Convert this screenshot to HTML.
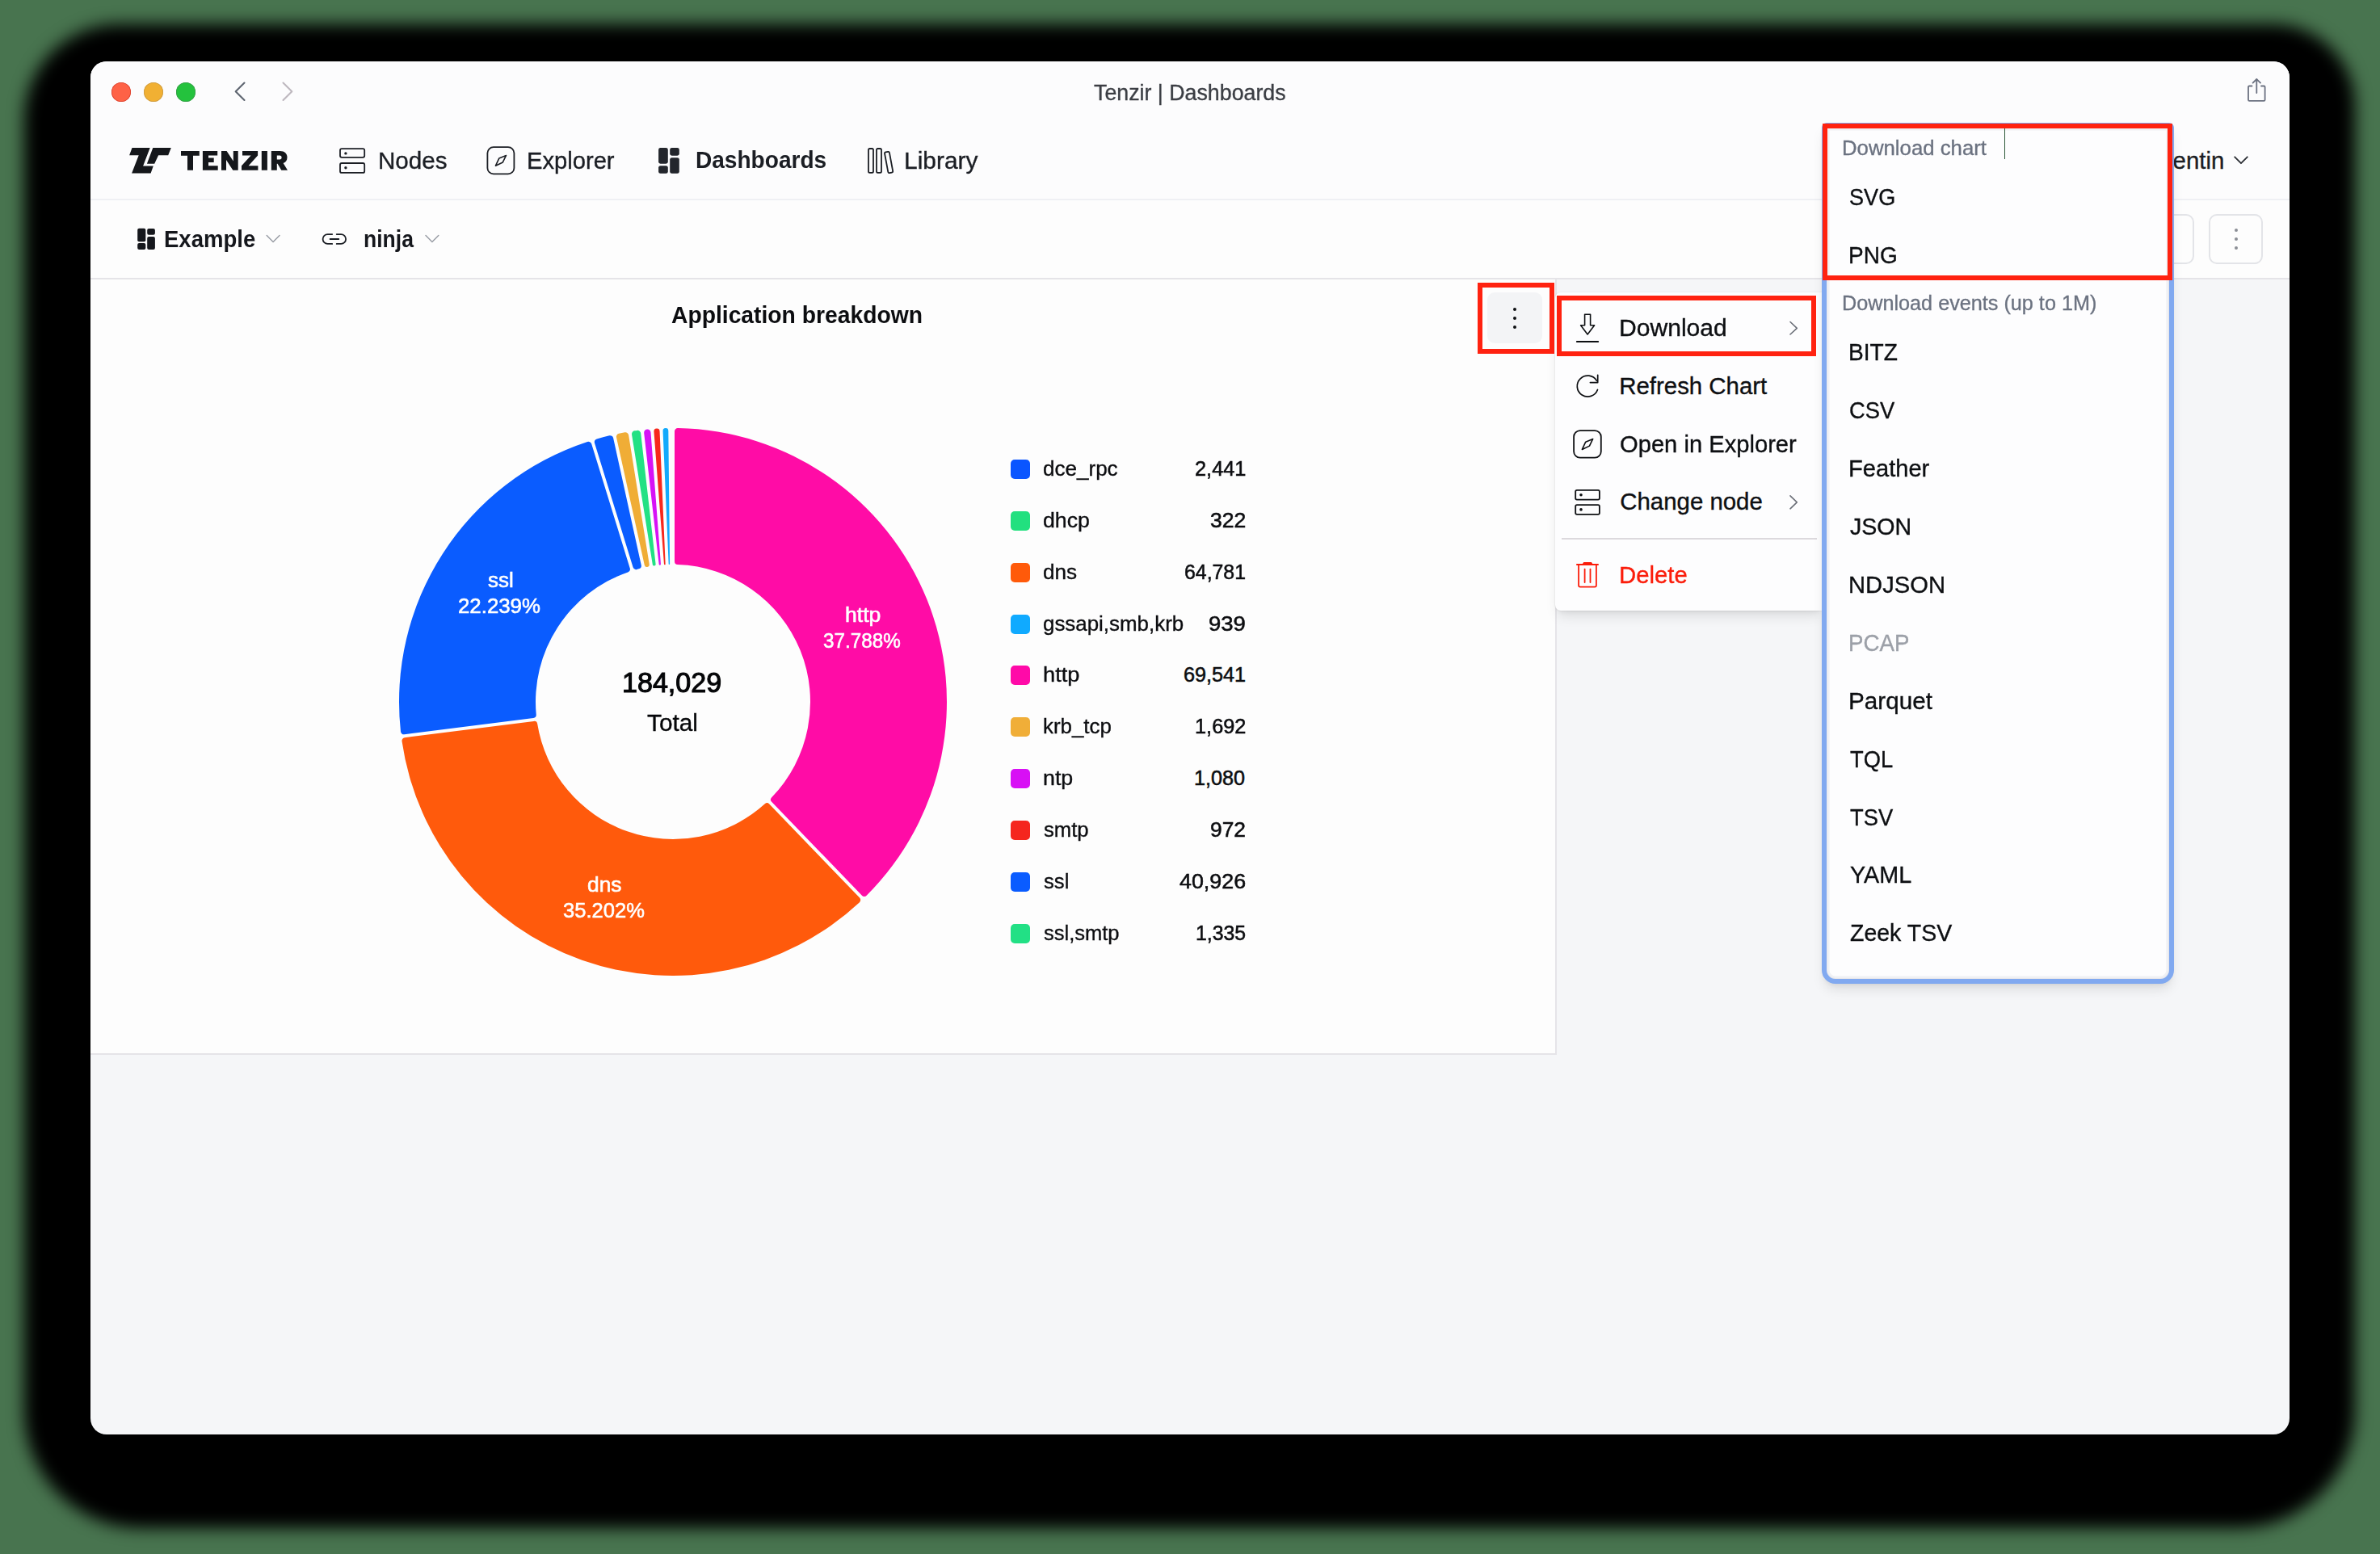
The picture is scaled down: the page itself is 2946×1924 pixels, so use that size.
<!DOCTYPE html>
<html><head><meta charset="utf-8"><style>
html,body{margin:0;padding:0;}
body{width:2946px;height:1924px;overflow:hidden;background:#48744f;position:relative;font-family:'Liberation Sans',sans-serif;}
</style></head><body>
<div style="position:absolute;left:29.6px;top:29.6px;width:2885px;height:1862.4px;background:#000;border-radius:118px 101px 145px 145px;filter:blur(10px)"></div>
<div id="win" style="position:absolute;left:0;top:0;width:2946px;height:1924px;clip-path:inset(76px 112px 148px 112px round 20px);background:#f5f6f8">
<div style="position:absolute;left:112px;top:76px;width:2722px;height:170px;background:#fcfcfd"></div>
<div style="position:absolute;left:112px;top:246px;width:2722px;height:2px;background:#eff0f4"></div>
<div style="position:absolute;left:112px;top:248px;width:2722px;height:96px;background:#fdfdfd"></div>
<div style="position:absolute;left:112px;top:344px;width:2722px;height:2px;background:#e5e4e8"></div>
<div style="position:absolute;left:112px;top:346px;width:1813px;height:958px;background:#fdfdfd;border-right:2px solid #e5e4e8;border-bottom:2px solid #e5e4e8"></div>
<div style="position:absolute;left:137.7px;top:101.5px;width:24.6px;height:24.6px;border-radius:50%;background:#fe6246;box-shadow:inset 0 0 0 0.8px #d9402e"></div>
<div style="position:absolute;left:177.7px;top:101.5px;width:24.6px;height:24.6px;border-radius:50%;background:#f1b033;box-shadow:inset 0 0 0 0.8px #c99a45"></div>
<div style="position:absolute;left:217.7px;top:101.5px;width:24.6px;height:24.6px;border-radius:50%;background:#24c23d;box-shadow:inset 0 0 0 0.8px #3a9a4a"></div>
<svg style="position:absolute;left:285px;top:98px;overflow:visible" width="84" height="30" viewBox="285 98 84 30" ><path d="M302.5,102.5 L291.7,113.2 L302.5,124" fill="none" stroke="#5e6570" stroke-width="2.1" stroke-linecap="round" stroke-linejoin="round"/><path d="M350.5,102.5 L361.3,113.2 L350.5,124" fill="none" stroke="#beb8bf" stroke-width="2.1" stroke-linecap="round" stroke-linejoin="round"/></svg>
<div style="position:absolute;left:1354.00px;top:101.00px;font:400 27.3px/27.3px 'Liberation Sans',sans-serif;color:#3b3e44;white-space:nowrap;transform:scaleX(0.9809);transform-origin:0 0;-webkit-text-stroke:0.35px #3b3e44;">Tenzir | Dashboards</div>
<svg style="position:absolute;left:2778px;top:94px;overflow:visible" width="32" height="36" viewBox="2778 94 32 36" ><path d="M2787.5,106.5 L2784.3,106.5 Q2783,106.5 2783,107.8 L2783,123.5 Q2783,124.8 2784.3,124.8 L2802.3,124.8 Q2803.6,124.8 2803.6,123.5 L2803.6,107.8 Q2803.6,106.5 2802.3,106.5 L2799,106.5" fill="none" stroke="#6b7180" stroke-width="1.8" stroke-linecap="round" stroke-linejoin="round"/><path d="M2793.3,115 L2793.3,98.2 M2788.6,102.6 L2793.3,98 L2798,102.6" fill="none" stroke="#6b7180" stroke-width="1.8" stroke-linecap="round" stroke-linejoin="round"/></svg>
<svg style="position:absolute;left:155px;top:178px;overflow:visible" width="62" height="42" viewBox="155 178 62 42" ><path d="M163.5,183.1 L185.7,183.1 L177.1,205.4 L189.8,205.4 L186.6,214.6 L163.1,214.6 L171.7,192.3 L160.1,192.3 Z" fill="#15171b"/><path d="M189.3,183.1 L211.8,183.1 L208.2,192.3 L196.1,192.3 L191.2,202.8 L181.9,202.8 Z" fill="#15171b"/></svg>
<svg style="position:absolute;left:220px;top:183px;overflow:visible" width="140" height="32" viewBox="220 183 140 32" ><path d="M224,187 H246.8 V192.8 H239 V210.8 H232 V192.8 H224 Z M250.9,187 H269.2 V192.6 H258 V195.6 H264.7 V200.9 H258 V205.3 H269.7 V210.8 H250.9 Z M274,187 H280.6 L288.8,199.6 V187 H294.7 V210.8 H288.3 L280,198 V210.8 H274 Z M300,187 H319.1 V192.6 L307.6,205.3 H319.4 V210.8 H299 V205.3 L310.6,192.6 H300 Z M323.8,187 H330.9 V210.8 H323.8 Z M335.8,187 H346.5 C352.5,187 355.5,190.3 355.5,195 C355.5,198.6 353.6,200.9 350.6,201.9 L356,210.8 H348.3 L343.6,202.8 H342.8 V210.8 H335.8 Z M342.8,192.4 V197.5 H346.2 C347.9,197.5 348.6,196.5 348.6,195 C348.6,193.4 347.9,192.4 346.2,192.4 Z" fill="#15171b" fill-rule="evenodd"/></svg>
<svg style="position:absolute;left:418px;top:181px;overflow:visible" width="36" height="36" viewBox="418 181 36 36" ><rect x="421" y="184.1" width="30.2" height="10.7" rx="2" fill="none" stroke="#1b1e24" stroke-width="1.8" stroke-linecap="round" stroke-linejoin="round"/><rect x="421" y="202" width="30.2" height="11.9" rx="2" fill="none" stroke="#1b1e24" stroke-width="1.8" stroke-linecap="round" stroke-linejoin="round"/><circle cx="427.9" cy="189.9" r="1.7" fill="#1b1e24"/><circle cx="427.9" cy="207.8" r="1.7" fill="#1b1e24"/></svg>
<div style="position:absolute;left:467.89px;top:184.00px;font:400 29.4px/29.4px 'Liberation Sans',sans-serif;color:#1b1e24;white-space:nowrap;transform:scaleX(1.0065);transform-origin:0 0;-webkit-text-stroke:0.35px #1b1e24;">Nodes</div>
<svg style="position:absolute;left:600px;top:179px;overflow:visible" width="40" height="40" viewBox="600 179 40 40" ><rect x="603.4" y="182.1" width="32.99999999999996" height="33.300000000000026" rx="7.49" fill="none" stroke="#1b1e24" stroke-width="1.8" stroke-linecap="round" stroke-linejoin="round"/><path d="M626.51,192.44 L617.73,196.09 L613.49,205.16 L622.36,200.92 Z" fill="none" stroke="#1b1e24" stroke-width="1.6" stroke-linecap="round" stroke-linejoin="round"/></svg>
<div style="position:absolute;left:651.82px;top:184.00px;font:400 29.4px/29.4px 'Liberation Sans',sans-serif;color:#1b1e24;white-space:nowrap;transform:scaleX(0.9921);transform-origin:0 0;-webkit-text-stroke:0.35px #1b1e24;">Explorer</div>
<svg style="position:absolute;left:812px;top:180px;overflow:visible" width="32" height="38" viewBox="812 180 32 38" ><rect x="815.1" y="183.1" width="11.7" height="19.6" rx="2.4" fill="#23262c"/><rect x="815.1" y="205.2" width="11.7" height="9.6" rx="2.4" fill="#23262c"/><rect x="829.2" y="183.1" width="11.6" height="9.6" rx="2.4" fill="#23262c"/><rect x="829.2" y="195.2" width="11.6" height="19.6" rx="2.4" fill="#23262c"/></svg>
<div style="position:absolute;left:860.85px;top:183.00px;font:700 29.4px/29.4px 'Liberation Sans',sans-serif;color:#1b1e24;white-space:nowrap;transform:scaleX(0.9548);transform-origin:0 0;">Dashboards</div>
<svg style="position:absolute;left:1070px;top:180px;overflow:visible" width="40" height="40" viewBox="1070 180 40 40" ><rect x="1075" y="184" width="6" height="29.9" rx="1.6" fill="none" stroke="#1b1e24" stroke-width="1.8" stroke-linecap="round" stroke-linejoin="round"/><rect x="1085" y="184" width="6" height="29.9" rx="1.6" fill="none" stroke="#1b1e24" stroke-width="1.8" stroke-linecap="round" stroke-linejoin="round"/><rect x="-3" y="-13" width="6" height="26.2" rx="1.6" transform="translate(1100.1,200.9) rotate(-10.5)" fill="none" stroke="#1b1e24" stroke-width="1.8" stroke-linecap="round" stroke-linejoin="round"/></svg>
<div style="position:absolute;left:1119.46px;top:184.00px;font:400 29.4px/29.4px 'Liberation Sans',sans-serif;color:#1b1e24;white-space:nowrap;transform:scaleX(1.0177);transform-origin:0 0;-webkit-text-stroke:0.35px #1b1e24;">Library</div>
<div style="position:absolute;left:2649.32px;top:184.00px;font:400 29.4px/29.4px 'Liberation Sans',sans-serif;color:#1b1e24;white-space:nowrap;-webkit-text-stroke:0.35px #1b1e24;">Valentin</div>
<svg style="position:absolute;left:2760px;top:188px;overflow:visible" width="28" height="20" viewBox="2760 188 28 20" ><path d="M2766.2,194.3 L2774,202.2 L2781.8,194.3" fill="none" stroke="#2a2d33" stroke-width="1.8" stroke-linecap="round" stroke-linejoin="round"/></svg>
<svg style="position:absolute;left:166px;top:278px;overflow:visible" width="30" height="36" viewBox="166 278 30 36" ><rect x="170.2" y="282.7" width="10.1" height="16.5" rx="2" fill="#15171c"/><rect x="170.2" y="301.1" width="10.1" height="7.9" rx="2" fill="#15171c"/><rect x="182.2" y="283" width="9.7" height="7.7" rx="2" fill="#15171c"/><rect x="182.2" y="292.9" width="9.7" height="16.1" rx="2" fill="#15171c"/></svg>
<div style="position:absolute;left:203.06px;top:281.00px;font:700 29.4px/29.4px 'Liberation Sans',sans-serif;color:#15171c;white-space:nowrap;transform:scaleX(0.9369);transform-origin:0 0;">Example</div>
<svg style="position:absolute;left:326px;top:286px;overflow:visible" width="24" height="18" viewBox="326 286 24 18" ><path d="M330.2,291.5 L338.1,299.5 L346,291.5" fill="none" stroke="#9a9ea6" stroke-width="1.5" stroke-linecap="round" stroke-linejoin="round"/></svg>
<svg style="position:absolute;left:396px;top:286px;overflow:visible" width="36" height="20" viewBox="396 286 36 20" ><path d="M411.2,290.1 H405.5 A5.9,5.9 0 0 0 405.5,301.9 H411.2 M416.7,290.1 H422.2 A5.9,5.9 0 0 1 422.2,301.9 H416.7 M408.6,296 H419.3" fill="none" stroke="#1b1e24" stroke-width="1.8" stroke-linecap="round" stroke-linejoin="round"/></svg>
<div style="position:absolute;left:449.90px;top:281.00px;font:700 29.4px/29.4px 'Liberation Sans',sans-serif;color:#15171c;white-space:nowrap;transform:scaleX(0.9027);transform-origin:0 0;">ninja</div>
<svg style="position:absolute;left:522px;top:286px;overflow:visible" width="24" height="18" viewBox="522 286 24 18" ><path d="M527,291.5 L534.9,299.5 L542.8,291.5" fill="none" stroke="#9a9ea6" stroke-width="1.5" stroke-linecap="round" stroke-linejoin="round"/></svg>
<div style="position:absolute;left:2650px;top:265px;width:66px;height:62px;box-sizing:border-box;border:2px solid #e3e4e8;border-radius:10px;background:#fdfdfd"></div>
<div style="position:absolute;left:2734.4px;top:265px;width:66.4px;height:62px;box-sizing:border-box;border:2px solid #e3e4e8;border-radius:10px;background:#fdfdfd"></div>
<div style="position:absolute;left:2766.0px;top:282.8px;width:3.8px;height:3.8px;border-radius:50%;background:#8b8e95"></div>
<div style="position:absolute;left:2766.0px;top:294.0px;width:3.8px;height:3.8px;border-radius:50%;background:#8b8e95"></div>
<div style="position:absolute;left:2766.0px;top:305.20000000000005px;width:3.8px;height:3.8px;border-radius:50%;background:#8b8e95"></div>
<div style="position:absolute;left:830.70px;top:375.00px;font:700 29.4px/29.4px 'Liberation Sans',sans-serif;color:#0c0d10;white-space:nowrap;transform:scaleX(0.9616);transform-origin:0 0;">Application breakdown</div>
<div style="position:absolute;left:1841px;top:362.2px;width:67.6px;height:63.2px;border-radius:9px;background:#f3f4f6"></div>
<div style="position:absolute;left:1872.6px;top:380.5px;width:4.8px;height:4.8px;border-radius:50%;background:#0d0f12"></div>
<div style="position:absolute;left:1872.6px;top:391.5px;width:4.8px;height:4.8px;border-radius:50%;background:#0d0f12"></div>
<div style="position:absolute;left:1872.6px;top:402.70000000000005px;width:4.8px;height:4.8px;border-radius:50%;background:#0d0f12"></div>
<svg style="position:absolute;left:489px;top:525px;overflow:visible" width="688" height="688" viewBox="489 525 688 688" ><path d="M835.00,534.05 A4.00,4.00 0 0 1 839.07,530.05 A339,339 0 0 1 1072.66,1108.75 A4.00,4.00 0 0 1 1066.96,1108.70 L955.16,992.78 A4.00,4.00 0 0 1 955.16,987.22 A170,170 0 0 0 838.86,699.10 A4.00,4.00 0 0 1 835.00,695.10 Z" fill="#ff0ca6"/><path d="M1064.08,1111.48 A4.00,4.00 0 0 1 1063.92,1117.18 A339,339 0 0 1 497.52,917.72 A4.00,4.00 0 0 1 500.97,913.18 L660.74,892.89 A4.00,4.00 0 0 1 665.19,896.22 A170,170 0 0 0 946.72,995.36 A4.00,4.00 0 0 1 952.28,995.56 Z" fill="#ff5a0c"/><path d="M500.47,909.21 A4.00,4.00 0 0 1 495.99,905.68 A339,339 0 0 1 727.10,546.97 A4.00,4.00 0 0 1 732.17,549.58 L779.73,703.45 A4.00,4.00 0 0 1 777.22,708.41 A170,170 0 0 0 663.72,884.59 A4.00,4.00 0 0 1 660.24,888.92 Z" fill="#0a5cff"/><path d="M735.99,548.40 A4.00,4.00 0 0 1 738.70,543.38 A339,339 0 0 1 754.27,539.27 A4.00,4.00 0 0 1 759.11,542.30 L793.70,699.59 A4.00,4.00 0 0 1 790.78,704.33 A170,170 0 0 0 788.42,704.95 A4.00,4.00 0 0 1 783.55,702.27 Z" fill="#0a5cff"/><path d="M763.01,541.44 A4.00,4.00 0 0 1 766.13,536.66 A339,339 0 0 1 773.44,535.27 A4.00,4.00 0 0 1 778.09,538.58 L803.70,698.56 A3.00,3.00 0 0 1 801.30,701.98 A170,170 0 0 0 801.30,701.98 A3.00,3.00 0 0 1 797.81,699.68 Z" fill="#f0ad36"/><path d="M782.04,537.95 A4.00,4.00 0 0 1 785.43,533.35 A339,339 0 0 1 788.71,532.91 A4.00,4.00 0 0 1 793.21,536.42 L811.61,698.45 A1.92,1.92 0 0 1 809.97,700.57 A170,170 0 0 0 809.97,700.57 A1.92,1.92 0 0 1 807.81,698.97 Z" fill="#22e184"/><path d="M797.18,535.97 A4.00,4.00 0 0 1 800.78,531.54 A339,339 0 0 1 801.13,531.50 A4.00,4.00 0 0 1 805.49,535.18 L817.97,698.52 A1.16,1.16 0 0 1 816.93,699.76 A170,170 0 0 0 816.93,699.76 A1.16,1.16 0 0 1 815.67,698.74 Z" fill="#d612f6"/><path d="M809.45,534.43 A3.57,3.57 0 0 1 812.79,530.60 A339,339 0 0 1 812.79,530.60 A3.57,3.57 0 0 1 816.57,534.01 L823.65,698.43 A0.83,0.83 0 0 1 822.87,699.30 A170,170 0 0 0 822.87,699.30 A0.83,0.83 0 0 1 821.98,698.53 Z" fill="#f7281c"/><path d="M820.55,533.65 A3.38,3.38 0 0 1 823.84,530.12 A339,339 0 0 1 823.84,530.12 A3.38,3.38 0 0 1 827.31,533.47 L829.12,698.32 A0.74,0.74 0 0 1 828.41,699.06 A170,170 0 0 0 828.41,699.06 A0.74,0.74 0 0 1 827.65,698.36 Z" fill="#12aafc"/></svg>
<div style="position:absolute;left:769.83px;top:828.00px;font:400 34.65px/34.65px 'Liberation Sans',sans-serif;color:#050608;white-space:nowrap;transform:scaleX(0.9840);transform-origin:0 0;-webkit-text-stroke:1.1px #050608;">184,029</div>
<div style="position:absolute;left:800.70px;top:880.00px;font:400 29.4px/29.4px 'Liberation Sans',sans-serif;color:#050608;white-space:nowrap;transform:scaleX(1.0124);transform-origin:0 0;-webkit-text-stroke:0.35px #050608;">Total</div>
<div style="position:absolute;left:1046.35px;top:749.00px;font:400 25.2px/25.2px 'Liberation Sans',sans-serif;color:#ffffff;white-space:nowrap;transform:scaleX(1.0549);transform-origin:0 0;-webkit-text-stroke:0.6px #ffffff;">http</div>
<div style="position:absolute;left:1018.60px;top:781.00px;font:400 25.2px/25.2px 'Liberation Sans',sans-serif;color:#ffffff;white-space:nowrap;transform:scaleX(0.9623);transform-origin:0 0;-webkit-text-stroke:0.6px #ffffff;">37.788%</div>
<div style="position:absolute;left:604.30px;top:706.00px;font:400 25.2px/25.2px 'Liberation Sans',sans-serif;color:#ffffff;white-space:nowrap;transform:scaleX(1.0313);transform-origin:0 0;-webkit-text-stroke:0.6px #ffffff;">ssl</div>
<div style="position:absolute;left:566.67px;top:738.00px;font:400 25.2px/25.2px 'Liberation Sans',sans-serif;color:#ffffff;white-space:nowrap;transform:scaleX(1.0251);transform-origin:0 0;-webkit-text-stroke:0.6px #ffffff;">22.239%</div>
<div style="position:absolute;left:726.95px;top:1083.00px;font:400 25.2px/25.2px 'Liberation Sans',sans-serif;color:#ffffff;white-space:nowrap;transform:scaleX(1.0457);transform-origin:0 0;-webkit-text-stroke:0.6px #ffffff;">dns</div>
<div style="position:absolute;left:697.00px;top:1115.00px;font:400 25.2px/25.2px 'Liberation Sans',sans-serif;color:#ffffff;white-space:nowrap;transform:scaleX(1.0148);transform-origin:0 0;-webkit-text-stroke:0.6px #ffffff;">35.202%</div>
<div style="position:absolute;left:1251px;top:568.85px;width:24px;height:24px;border-radius:5px;background:#0a55ff"></div>
<div style="position:absolute;left:1290.67px;top:568.00px;font:400 25.2px/25.2px 'Liberation Sans',sans-serif;color:#0c0d10;white-space:nowrap;transform:scaleX(1.0339);transform-origin:0 0;-webkit-text-stroke:0.35px #0c0d10;">dce_rpc</div>
<div style="position:absolute;left:1478.59px;top:568.00px;font:400 25.2px/25.2px 'Liberation Sans',sans-serif;color:#0c0d10;white-space:nowrap;transform:scaleX(1.0062);transform-origin:0 0;-webkit-text-stroke:0.55px #0c0d10;">2,441</div>
<div style="position:absolute;left:1251px;top:632.75px;width:24px;height:24px;border-radius:5px;background:#22e07f"></div>
<div style="position:absolute;left:1290.64px;top:632.00px;font:400 25.2px/25.2px 'Liberation Sans',sans-serif;color:#0c0d10;white-space:nowrap;transform:scaleX(1.0606);transform-origin:0 0;-webkit-text-stroke:0.35px #0c0d10;">dhcp</div>
<div style="position:absolute;left:1497.70px;top:632.00px;font:400 25.2px/25.2px 'Liberation Sans',sans-serif;color:#0c0d10;white-space:nowrap;transform:scaleX(1.0557);transform-origin:0 0;-webkit-text-stroke:0.55px #0c0d10;">322</div>
<div style="position:absolute;left:1251px;top:696.65px;width:24px;height:24px;border-radius:5px;background:#ff5a0a"></div>
<div style="position:absolute;left:1290.66px;top:696.00px;font:400 25.2px/25.2px 'Liberation Sans',sans-serif;color:#0c0d10;white-space:nowrap;transform:scaleX(1.0380);transform-origin:0 0;-webkit-text-stroke:0.35px #0c0d10;">dns</div>
<div style="position:absolute;left:1466.01px;top:696.00px;font:400 25.2px/25.2px 'Liberation Sans',sans-serif;color:#0c0d10;white-space:nowrap;transform:scaleX(0.9863);transform-origin:0 0;-webkit-text-stroke:0.55px #0c0d10;">64,781</div>
<div style="position:absolute;left:1251px;top:760.55px;width:24px;height:24px;border-radius:5px;background:#10aaff"></div>
<div style="position:absolute;left:1290.67px;top:760.00px;font:400 25.2px/25.2px 'Liberation Sans',sans-serif;color:#0c0d10;white-space:nowrap;transform:scaleX(1.0283);transform-origin:0 0;-webkit-text-stroke:0.35px #0c0d10;">gssapi,smb,krb</div>
<div style="position:absolute;left:1496.21px;top:760.00px;font:400 25.2px/25.2px 'Liberation Sans',sans-serif;color:#0c0d10;white-space:nowrap;transform:scaleX(1.0921);transform-origin:0 0;-webkit-text-stroke:0.55px #0c0d10;">939</div>
<div style="position:absolute;left:1251px;top:824.45px;width:24px;height:24px;border-radius:5px;background:#ff0aa8"></div>
<div style="position:absolute;left:1290.62px;top:823.00px;font:400 25.2px/25.2px 'Liberation Sans',sans-serif;color:#0c0d10;white-space:nowrap;transform:scaleX(1.0799);transform-origin:0 0;-webkit-text-stroke:0.35px #0c0d10;">http</div>
<div style="position:absolute;left:1465.10px;top:823.00px;font:400 25.2px/25.2px 'Liberation Sans',sans-serif;color:#0c0d10;white-space:nowrap;-webkit-text-stroke:0.55px #0c0d10;">69,541</div>
<div style="position:absolute;left:1251px;top:888.35px;width:24px;height:24px;border-radius:5px;background:#f0ae38"></div>
<div style="position:absolute;left:1290.67px;top:887.00px;font:400 25.2px/25.2px 'Liberation Sans',sans-serif;color:#0c0d10;white-space:nowrap;transform:scaleX(1.0274);transform-origin:0 0;-webkit-text-stroke:0.35px #0c0d10;">krb_tcp</div>
<div style="position:absolute;left:1478.59px;top:887.00px;font:400 25.2px/25.2px 'Liberation Sans',sans-serif;color:#0c0d10;white-space:nowrap;transform:scaleX(1.0062);transform-origin:0 0;-webkit-text-stroke:0.55px #0c0d10;">1,692</div>
<div style="position:absolute;left:1251px;top:952.25px;width:24px;height:24px;border-radius:5px;background:#d80ff5"></div>
<div style="position:absolute;left:1290.64px;top:951.00px;font:400 25.2px/25.2px 'Liberation Sans',sans-serif;color:#0c0d10;white-space:nowrap;transform:scaleX(1.0634);transform-origin:0 0;-webkit-text-stroke:0.35px #0c0d10;">ntp</div>
<div style="position:absolute;left:1478.10px;top:951.00px;font:400 25.2px/25.2px 'Liberation Sans',sans-serif;color:#0c0d10;white-space:nowrap;-webkit-text-stroke:0.55px #0c0d10;">1,080</div>
<div style="position:absolute;left:1251px;top:1016.1500000000001px;width:24px;height:24px;border-radius:5px;background:#f5261e"></div>
<div style="position:absolute;left:1291.70px;top:1015.00px;font:400 25.2px/25.2px 'Liberation Sans',sans-serif;color:#0c0d10;white-space:nowrap;transform:scaleX(1.0192);transform-origin:0 0;-webkit-text-stroke:0.35px #0c0d10;">smtp</div>
<div style="position:absolute;left:1498.05px;top:1015.00px;font:400 25.2px/25.2px 'Liberation Sans',sans-serif;color:#0c0d10;white-space:nowrap;transform:scaleX(1.0471);transform-origin:0 0;-webkit-text-stroke:0.55px #0c0d10;">972</div>
<div style="position:absolute;left:1251px;top:1080.05px;width:24px;height:24px;border-radius:5px;background:#0a5cff"></div>
<div style="position:absolute;left:1291.70px;top:1079.00px;font:400 25.2px/25.2px 'Liberation Sans',sans-serif;color:#0c0d10;white-space:nowrap;transform:scaleX(1.0176);transform-origin:0 0;-webkit-text-stroke:0.35px #0c0d10;">ssl</div>
<div style="position:absolute;left:1460.00px;top:1079.00px;font:400 25.2px/25.2px 'Liberation Sans',sans-serif;color:#0c0d10;white-space:nowrap;transform:scaleX(1.0654);transform-origin:0 0;-webkit-text-stroke:0.55px #0c0d10;">40,926</div>
<div style="position:absolute;left:1251px;top:1143.95px;width:24px;height:24px;border-radius:5px;background:#22e085"></div>
<div style="position:absolute;left:1291.70px;top:1143.00px;font:400 25.2px/25.2px 'Liberation Sans',sans-serif;color:#0c0d10;white-space:nowrap;transform:scaleX(1.0125);transform-origin:0 0;-webkit-text-stroke:0.35px #0c0d10;">ssl,smtp</div>
<div style="position:absolute;left:1479.81px;top:1143.00px;font:400 25.2px/25.2px 'Liberation Sans',sans-serif;color:#0c0d10;white-space:nowrap;transform:scaleX(0.9865);transform-origin:0 0;-webkit-text-stroke:0.55px #0c0d10;">1,335</div>
</div>
<div style="position:absolute;left:1925px;top:361.5px;width:331px;height:394.5px;background:#fdfdfe;border-radius:7px 0 0 7px;box-shadow:0 0 0 1px rgba(0,0,0,0.03),0 10px 15px -3px rgba(0,0,0,0.1),0 4px 6px -4px rgba(0,0,0,0.1)"></div>
<svg style="position:absolute;left:1945px;top:385px;overflow:visible" width="40" height="42" viewBox="1945 385 40 42" ><path d="M1961.6,389.3 H1968.6 V402.8 H1973.6 L1965.1,414 L1956.6,402.8 H1961.6 Z" fill="none" stroke="#0d0f12" stroke-width="1.6" stroke-linecap="round" stroke-linejoin="round"/><path d="M1951.9,423 H1978.2" fill="none" stroke="#0d0f12" stroke-width="2" stroke-linecap="round" stroke-linejoin="round"/></svg>
<div style="position:absolute;left:2004.35px;top:391.00px;font:400 29.4px/29.4px 'Liberation Sans',sans-serif;color:#0d0f12;white-space:nowrap;transform:scaleX(1.0231);transform-origin:0 0;-webkit-text-stroke:0.35px #0d0f12;">Download</div>
<svg style="position:absolute;left:2210px;top:395px;overflow:visible" width="20" height="24" viewBox="2210 395 20 24" ><path d="M2216,398.5 L2224.3,406.3 L2216,414" fill="none" stroke="#6b6f78" stroke-width="1.6" stroke-linecap="round" stroke-linejoin="round"/></svg>
<svg style="position:absolute;left:1945px;top:460px;overflow:visible" width="40" height="36" viewBox="1945 460 40 36" ><path d="M1977.5,482.5 A13,13 0 1 1 1976.4,471.4" fill="none" stroke="#0d0f12" stroke-width="1.7" stroke-linecap="round" stroke-linejoin="round"/><path d="M1977.7,464.3 V473.6 H1968.4" fill="none" stroke="#0d0f12" stroke-width="1.7" stroke-linecap="round" stroke-linejoin="round"/></svg>
<div style="position:absolute;left:2004.30px;top:463.00px;font:400 29.4px/29.4px 'Liberation Sans',sans-serif;color:#0d0f12;white-space:nowrap;-webkit-text-stroke:0.35px #0d0f12;">Refresh Chart</div>
<svg style="position:absolute;left:1944px;top:529px;overflow:visible" width="42" height="42" viewBox="1944 529 42 42" ><rect x="1948.1000000000001" y="533.1" width="33.7" height="33.59999999999998" rx="7.64" fill="none" stroke="#0d0f12" stroke-width="1.8" stroke-linecap="round" stroke-linejoin="round"/><path d="M1971.69,543.46 L1962.74,547.18 L1958.41,556.44 L1967.46,552.11 Z" fill="none" stroke="#0d0f12" stroke-width="1.6" stroke-linecap="round" stroke-linejoin="round"/></svg>
<div style="position:absolute;left:2005.31px;top:535.00px;font:400 29.4px/29.4px 'Liberation Sans',sans-serif;color:#0d0f12;white-space:nowrap;transform:scaleX(0.9920);transform-origin:0 0;-webkit-text-stroke:0.35px #0d0f12;">Open in Explorer</div>
<svg style="position:absolute;left:1946px;top:603px;overflow:visible" width="38" height="38" viewBox="1946 603 38 38" ><rect x="1950.2" y="606.9" width="29.7" height="11.7" rx="1.8" fill="none" stroke="#0d0f12" stroke-width="1.8" stroke-linecap="round" stroke-linejoin="round"/><rect x="1950.2" y="625.1" width="29.7" height="11.7" rx="1.8" fill="none" stroke="#0d0f12" stroke-width="1.8" stroke-linecap="round" stroke-linejoin="round"/><circle cx="1957" cy="612.8" r="1.8" fill="#0d0f12"/><circle cx="1957" cy="630.9" r="1.8" fill="#0d0f12"/></svg>
<div style="position:absolute;left:2005.30px;top:606.00px;font:400 29.4px/29.4px 'Liberation Sans',sans-serif;color:#0d0f12;white-space:nowrap;-webkit-text-stroke:0.35px #0d0f12;">Change node</div>
<svg style="position:absolute;left:2210px;top:610px;overflow:visible" width="20" height="24" viewBox="2210 610 20 24" ><path d="M2216,613.8 L2224.3,621.8 L2216,629.8" fill="none" stroke="#6b6f78" stroke-width="1.6" stroke-linecap="round" stroke-linejoin="round"/></svg>
<div style="position:absolute;left:1933px;top:666px;width:316px;height:2px;background:#dcd9dd"></div>
<svg style="position:absolute;left:1946px;top:692px;overflow:visible" width="38" height="40" viewBox="1946 692 38 40" ><path d="M1951.9,699 H1978.1 M1954.1,699.5 V724.8 Q1954.1,726.6 1955.9,726.6 H1974.1 Q1975.9,726.6 1975.9,724.8 V699.5 M1961.6,704.6 V721 M1968.5,704.6 V721" fill="none" stroke="#fb1d0b" stroke-width="1.8" stroke-linecap="round" stroke-linejoin="round"/><path d="M1959.3,698.6 L1960.6,696.6 H1969.6 L1970.9,698.6 Z" fill="#fb1d0b" stroke="#fb1d0b" stroke-width="1.2" stroke-linejoin="round"/></svg>
<div style="position:absolute;left:2004.31px;top:697.00px;font:400 29.4px/29.4px 'Liberation Sans',sans-serif;color:#fb1d0b;white-space:nowrap;transform:scaleX(0.9974);transform-origin:0 0;-webkit-text-stroke:0.35px #fb1d0b;">Delete</div>
<div style="position:absolute;left:2255px;top:152px;width:435.5px;height:1065.5px;box-sizing:border-box;background:#fdfdfe;border:6px solid #81a9f0;border-radius:6px 6px 17px 17px;box-shadow:inset 0 0 0 1px #e6e6ec, inset 0 0 0 3.6px #f0f1f4, 0 10px 15px -3px rgba(0,0,0,0.1),0 4px 6px -4px rgba(0,0,0,0.1)"></div>
<div style="position:absolute;left:2279.64px;top:170.00px;font:400 26.25px/26.25px 'Liberation Sans',sans-serif;color:#6b7280;white-space:nowrap;transform:scaleX(0.9812);transform-origin:0 0;-webkit-text-stroke:0.35px #6b7280;">Download chart</div>
<div style="position:absolute;left:2289.08px;top:229.00px;font:400 29.4px/29.4px 'Liberation Sans',sans-serif;color:#0d0f12;white-space:nowrap;transform:scaleX(0.9222);transform-origin:0 0;-webkit-text-stroke:0.35px #0d0f12;">SVG</div>
<div style="position:absolute;left:2288.09px;top:301.00px;font:400 29.4px/29.4px 'Liberation Sans',sans-serif;color:#0d0f12;white-space:nowrap;transform:scaleX(0.9527);transform-origin:0 0;-webkit-text-stroke:0.35px #0d0f12;">PNG</div>
<div style="position:absolute;left:2279.78px;top:362.00px;font:400 26.25px/26.25px 'Liberation Sans',sans-serif;color:#6b7280;white-space:nowrap;transform:scaleX(0.9605);transform-origin:0 0;-webkit-text-stroke:0.35px #6b7280;">Download events (up to 1M)</div>
<div style="position:absolute;left:2287.88px;top:421.00px;font:400 29.4px/29.4px 'Liberation Sans',sans-serif;color:#0d0f12;white-space:nowrap;transform:scaleX(0.9575);transform-origin:0 0;-webkit-text-stroke:0.35px #0d0f12;">BITZ</div>
<div style="position:absolute;left:2288.87px;top:493.00px;font:400 29.4px/29.4px 'Liberation Sans',sans-serif;color:#0d0f12;white-space:nowrap;transform:scaleX(0.9293);transform-origin:0 0;-webkit-text-stroke:0.35px #0d0f12;">CSV</div>
<div style="position:absolute;left:2287.82px;top:565.00px;font:400 29.4px/29.4px 'Liberation Sans',sans-serif;color:#0d0f12;white-space:nowrap;transform:scaleX(0.9899);transform-origin:0 0;-webkit-text-stroke:0.35px #0d0f12;">Feather</div>
<div style="position:absolute;left:2289.80px;top:637.00px;font:400 29.4px/29.4px 'Liberation Sans',sans-serif;color:#0d0f12;white-space:nowrap;transform:scaleX(0.9730);transform-origin:0 0;-webkit-text-stroke:0.35px #0d0f12;">JSON</div>
<div style="position:absolute;left:2287.81px;top:709.00px;font:400 29.4px/29.4px 'Liberation Sans',sans-serif;color:#0d0f12;white-space:nowrap;transform:scaleX(0.9931);transform-origin:0 0;-webkit-text-stroke:0.35px #0d0f12;">NDJSON</div>
<div style="position:absolute;left:2287.91px;top:781.00px;font:400 29.4px/29.4px 'Liberation Sans',sans-serif;color:#9ca0a8;white-space:nowrap;transform:scaleX(0.9428);transform-origin:0 0;-webkit-text-stroke:0.35px #9ca0a8;">PCAP</div>
<div style="position:absolute;left:2287.78px;top:853.00px;font:400 29.4px/29.4px 'Liberation Sans',sans-serif;color:#0d0f12;white-space:nowrap;transform:scaleX(1.0092);transform-origin:0 0;-webkit-text-stroke:0.35px #0d0f12;">Parquet</div>
<div style="position:absolute;left:2289.80px;top:925.00px;font:400 29.4px/29.4px 'Liberation Sans',sans-serif;color:#0d0f12;white-space:nowrap;transform:scaleX(0.9293);transform-origin:0 0;-webkit-text-stroke:0.35px #0d0f12;">TQL</div>
<div style="position:absolute;left:2289.80px;top:997.00px;font:400 29.4px/29.4px 'Liberation Sans',sans-serif;color:#0d0f12;white-space:nowrap;transform:scaleX(0.9295);transform-origin:0 0;-webkit-text-stroke:0.35px #0d0f12;">TSV</div>
<div style="position:absolute;left:2289.80px;top:1068.00px;font:400 29.4px/29.4px 'Liberation Sans',sans-serif;color:#0d0f12;white-space:nowrap;transform:scaleX(0.9780);transform-origin:0 0;-webkit-text-stroke:0.35px #0d0f12;">YAML</div>
<div style="position:absolute;left:2289.80px;top:1140.00px;font:400 29.4px/29.4px 'Liberation Sans',sans-serif;color:#0d0f12;white-space:nowrap;transform:scaleX(0.9698);transform-origin:0 0;-webkit-text-stroke:0.35px #0d0f12;">Zeek TSV</div>
<div style="position:absolute;left:2480.6px;top:156.4px;width:1.8px;height:41.1px;background:#2f5a3a"></div>
<div style="position:absolute;left:1829.4px;top:350.2px;width:94.59999999999991px;height:88.0px;box-sizing:border-box;border:6px solid #ff2210"></div>
<div style="position:absolute;left:1927.1px;top:366px;width:320.9000000000001px;height:74.5px;box-sizing:border-box;border:6px solid #ff2210"></div>
<div style="position:absolute;left:2256.4px;top:152.6px;width:432.2999999999997px;height:194.9px;box-sizing:border-box;border:6px solid #ff2210"></div>
</body></html>
